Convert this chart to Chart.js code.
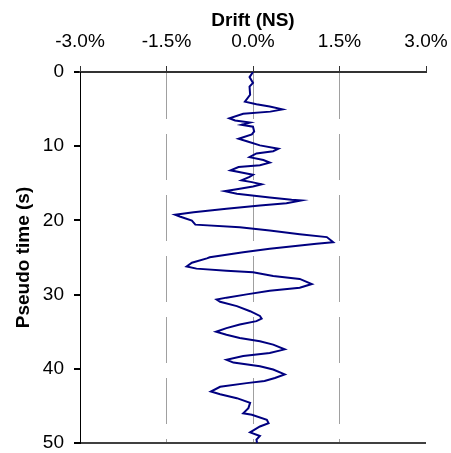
<!DOCTYPE html>
<html>
    <head>
        <title>Drift (NS)</title>
        <script src="https://cdn.jsdelivr.net/npm/chart.js@4.4.0/dist/chart.umd.min.js"></script>
        <style>
            body { margin: 0; background: #fff; }
            #wrap { width: 451px; height: 453px; }
        </style>
    </head>

    <body>
        <div id="wrap"><canvas id="driftChart"></canvas></div>
    </body>

    <script>
        // pseudo time (s) and interstory drift (%)
        var tiempo = [0, 0.69, 1.48, 1.98, 3.07, 4.0, 4.35, 4.65, 5.04, 5.34, 5.64, 6.23, 6.53, 6.82, 7.12, 7.37,
            8.01, 8.41, 9.0, 9.4, 9.89, 10.34, 10.68, 10.98, 11.47, 11.87, 12.21, 12.56, 12.81, 13.25, 13.55, 13.85,
            14.14, 14.59, 14.84, 15.13, 15.43, 15.73, 16.07, 16.42, 16.91, 17.21, 17.31, 17.7, 18.0, 18.44, 18.89,
            19.24, 19.48, 20.03, 20.57, 20.92, 21.36, 21.86, 22.25, 22.75, 22.94, 23.14, 23.83, 24.28, 24.97, 25.12,
            25.71, 26.21, 26.5, 26.8, 27.0, 27.49, 27.89, 28.58, 29.08, 29.47, 29.97, 30.41, 30.66, 30.96, 31.55,
            32.24, 32.88, 33.23, 33.58, 34.02, 34.52, 35.01, 35.41, 35.85, 36.3, 36.74, 37.38, 37.88, 38.27, 38.77,
            39.16, 39.66, 40.1, 40.75, 41.24, 41.64, 41.93, 42.43, 43.07, 43.42, 43.96, 44.6, 45.3, 45.99, 46.19,
            46.88, 47.32, 47.77, 48.56, 49.05, 49.55, 50];
        var drift = [0, -0.06, 0, -0.06, -0.05, -0.14, 0.06, 0.29, 0.51, 0.3, -0.17, -0.41, -0.31, -0.05, -0.2, 0,
            0.02, -0.02, -0.25, -0.08, 0.12, 0.44, 0.35, 0.06, -0.06, 0.18, 0.29, 0.12, -0.25, -0.39, -0.2, 0,
            -0.06, -0.2, -0.02, 0.15, 0, -0.23, -0.49, -0.28, 0.29, 0.67, 0.84, 0.58, 0.12, -0.46, -1.03,
            -1.35, -1.27, -1.06, -1.0, -0.23, 0.29, 0.81, 1.28, 1.36, 1.39, 1.1, 0.29, -0.17, -0.75, -0.8,
            -1.06, -1.15, -0.98, -0.46, 0, 0.35, 0.81, 1.02, 0.81, 0.29, -0.11, -0.46, -0.63, -0.57, -0.28,
            -0.05, 0.12, 0.15, 0.06, -0.23, -0.46, -0.64, -0.46, -0.23, 0.12, 0.35, 0.55, 0.29, -0.17, -0.46,
            -0.34, 0.12, 0.35, 0.55, 0.38, 0.2, -0.11, -0.57, -0.73, -0.57, -0.28, -0.05, -0.08, -0.17, -0.02,
            0.24, 0.27, 0.12, -0.05, 0.12, 0.06, 0.07];
        var ticksX = [-3, -1.5, 0, 1.5, 3];
        var ticksY = [0, 10, 20, 30, 40, 50];

        var fuente = "'Liberation Sans', Arial, sans-serif";
        var puntos = tiempo.map(function (t, i) { return {x: drift[i], y: t}; });

        var ctx = document.getElementById('driftChart').getContext('2d');
        var grafica = new Chart(ctx, {
            type: 'scatter',
            data: {
                datasets: [{
                    label: 'Drift (NS)',
                    data: puntos,
                    showLine: true,
                    borderColor: '#000080',
                    borderWidth: 2,
                    pointRadius: 0,
                    tension: 0
                }]
            },
            options: {
                responsive: true,
                maintainAspectRatio: false,
                animation: false,
                layout: { padding: 0 },
                plugins: { legend: { display: false }, tooltip: { enabled: false } },
                scales: {
                    x: {
                        position: 'top',
                        min: -3, max: 3,
                        afterBuildTicks: function (s) { s.ticks = ticksX.map(function (v) { return {value: v}; }); },
                        // fixed box: 72px tall, 25px margin on the right
                        afterFit: function (s) { s.height = 72; s.paddingLeft = 0; s.paddingRight = 25; },
                        ticks: {
                            color: '#000',
                            padding: 13,
                            maxRotation: 0,
                            font: { family: fuente, size: 19 },
                            callback: function (v) { return v.toFixed(1) + '%'; }
                        },
                        grid: {
                            color: function (c) { return Math.abs(c.tick.value) === 3 ? 'rgba(0,0,0,0)' : '#a0a0a0'; },
                            lineWidth: 1,
                            tickColor: '#333',
                            tickLength: 6
                        },
                        border: { color: '#333', width: 2, dash: [46, 15] },
                        title: {
                            display: true,
                            text: 'Drift (NS)',
                            color: '#000',
                            padding: { top: 9, bottom: 0 },
                            font: { family: fuente, size: 19, weight: 'bold' }
                        }
                    },
                    y: {
                        reverse: true,
                        min: 0, max: 50,
                        afterBuildTicks: function (s) { s.ticks = ticksY.map(function (v) { return {value: v}; }); },
                        afterFit: function (s) { s.width = 80; s.paddingTop = 0; s.paddingBottom = 10; },
                        ticks: {
                            color: '#000',
                            padding: 10,
                            font: { family: fuente, size: 19 }
                        },
                        grid: {
                            color: function (c) { return c.tick.value === 50 ? '#404040' : 'rgba(0,0,0,0)'; },
                            lineWidth: 2,
                            tickColor: '#000',
                            tickLength: 6
                        },
                        border: { color: '#000', width: 1 },
                        title: {
                            display: true,
                            text: 'Pseudo time (s)',
                            color: '#000',
                            padding: { top: 12, bottom: 0 },
                            font: { family: fuente, size: 19, weight: 'bold' }
                        }
                    }
                }
            }
        });
    </script>
</html>
